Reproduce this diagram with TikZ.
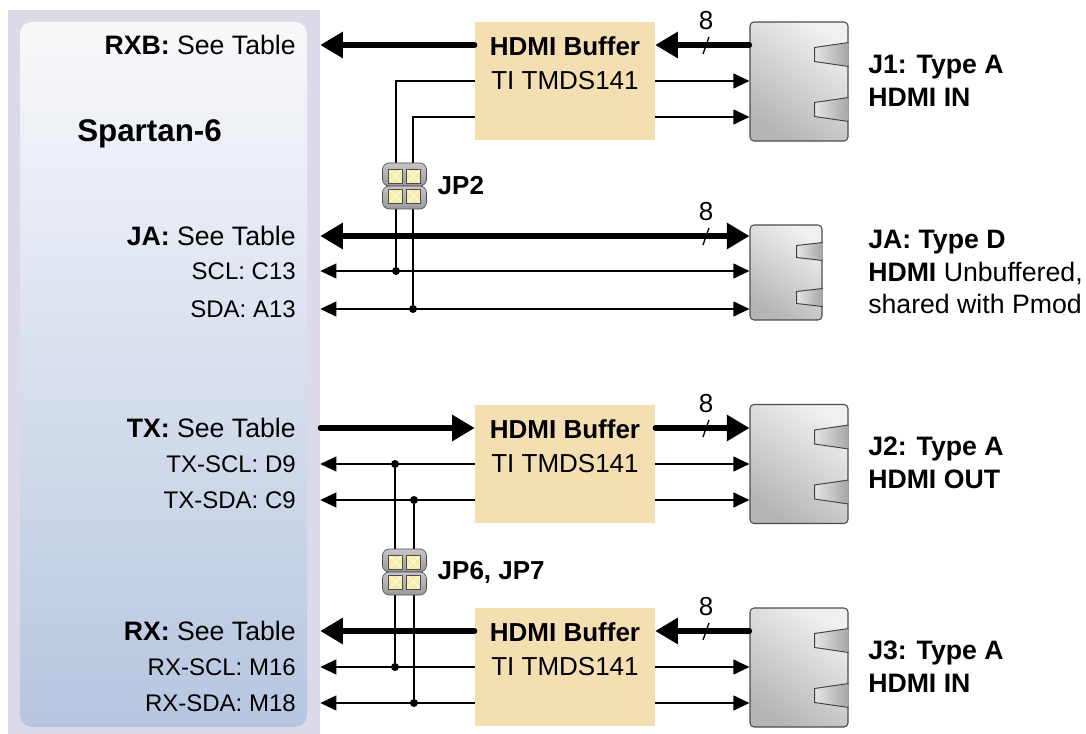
\documentclass[tikz,border=0pt]{standalone}
\usepackage{fontspec}
\setmainfont{Liberation Sans}
\usepackage{xcolor}
\usetikzlibrary{arrows.meta,positioning}
\definecolor{panelgray}{RGB}{220,218,233}
\definecolor{chiptop}{RGB}{248,248,250}
\definecolor{chipbot}{RGB}{182,198,224}
\definecolor{bufwheat}{RGB}{243,223,178}
\definecolor{pinyellow}{RGB}{247,236,176}

\begin{document}
\begin{tikzpicture}[
    x=0.75pt, y=-0.75pt,
    panel/.style={rectangle, fill=panelgray, minimum width=234pt, minimum height=543pt, inner sep=0},
    chip/.style={rectangle, rounded corners=9pt, top color=chiptop, bottom color=chipbot, minimum width=215.25pt, minimum height=528.75pt, inner sep=0},
    buffer/.style={rectangle, fill=bufwheat, minimum width=135pt, minimum height=88.5pt, inner sep=0,
        label={[buftext, anchor=north, yshift=-11pt]north:{\textbf{HDMI Buffer}\\TI TMDS141}}},
    buftext/.style={align=center, inner sep=0, font=\fontsize{19.5}{25.5}\selectfont},
    hdmi/.style={rectangle, draw=black!70, line width=0.8pt, rounded corners=3pt, top color=gray!12, bottom color=gray!58, shading angle=-35, minimum width=73.5pt, minimum height=89.25pt, inner sep=0},
    slot/.style={draw=black!75, line width=0.7pt, left color=gray!20, right color=gray!70},
    jumper/.style={rectangle, minimum width=33pt, minimum height=34.5pt, inner sep=0},
    jplab/.style={inner sep=0, font=\fontsize{19.5}{24}\selectfont\bfseries},
    lab/.style={anchor=east, inner sep=0, font=\fontsize{20}{24}\selectfont},
    sublab/.style={anchor=east, inner sep=0, font=\fontsize{18}{22}\selectfont},
    side/.style={anchor=west, align=left, inner sep=0, font=\fontsize{20}{24.5}\selectfont},
    wire/.style={line width=1.5pt},
    small/.style={line width=1.5pt, -{Triangle[length=12pt, width=11pt]}},
    smallboth/.style={line width=1.5pt, {Triangle[length=12pt, width=11pt]}-{Triangle[length=12pt, width=11pt]}},
    big/.style={line width=3.9pt, line cap=round, -{Triangle[length=17pt, width=19pt]}},
    bigboth/.style={line width=3.9pt, {Triangle[length=17pt, width=19pt]}-{Triangle[length=17pt, width=19pt]}},
    dot/.style={circle, fill=black, inner sep=0, minimum size=6pt}
]
    \useasboundingbox (0,0) rectangle (1086,734);

    % FPGA side
    \node[panel] (fpga) at (164,372) {};
    \node[chip] (chip) at (163.5,374.5) {};
    \node[anchor=west, inner sep=0, font=\fontsize{23.5}{28}\selectfont\bfseries] (spartan) at (77,134) {Spartan-6};

    \node[lab] (lrxb) at (296,45) {\textbf{RXB:} See Table};
    \node[lab] (lja) at (296,236) {\textbf{JA:} See Table};
    \node[sublab] (lscl) at (296,271) {SCL: C13};
    \node[sublab] (lsda) at (296,309) {SDA: A13};
    \node[lab] (ltx) at (296,428) {\textbf{TX:} See Table};
    \node[sublab] (ltxscl) at (296,464) {TX-SCL: D9};
    \node[sublab] (ltxsda) at (296,500) {TX-SDA: C9};
    \node[lab] (lrx) at (296,631) {\textbf{RX:} See Table};
    \node[sublab] (lrxscl) at (296,667) {RX-SCL: M16};
    \node[sublab] (lrxsda) at (296,703) {RX-SDA: M18};

    % buffers and connectors
    \node[buffer] (buf1) at (565,81) {};
    \node[buffer] (buf2) at (565,464) {};
    \node[buffer] (buf3) at (565,667) {};

    \node[hdmi] (j1) at (799,81.5) {};
    \node[hdmi, minimum width=54pt, minimum height=71.25pt] (ja) at (786,272.5) {};
    \node[hdmi] (j2) at (799,464) {};
    \node[hdmi] (j3) at (799,667.5) {};
    \foreach \c/\dy in {j1/-27, j1/28, j2/-27, j2/28, j3/-27, j3/28}
        \path[slot] ([shift={(0,\dy-12)}]\c.east) -- ++(-34,5) -- ++(0,14) -- ++(34,5);
    \foreach \dy in {-21,25}
        \path[slot] ([shift={(0,\dy-9)}]ja.east) -- ++(-26,3) -- ++(0,12) -- ++(26,3);

    \node[side] (t1) at (868,80.5) {\textbf{J1: Type A}\\\textbf{HDMI IN}};
    \node[side] (tja) at (868,272) {\textbf{JA: Type D}\\\textbf{HDMI} Unbuffered,\\shared with Pmod};
    \node[side] (t2) at (868,463) {\textbf{J2: Type A}\\\textbf{HDMI OUT}};
    \node[side] (t3) at (868,666.5) {\textbf{J3: Type A}\\\textbf{HDMI IN}};

    % RXB
    \draw[big] (j1.west |- lrxb) -- (buf1.east |- lrxb);
    \draw[big] (buf1.west |- lrxb) -- (fpga.east |- lrxb);
    \foreach \y in {81,117}
        \draw[small] (buf1.east |- 0,\y) -- (j1.west |- 0,\y);

    % JA
    \draw[bigboth] (fpga.east |- lja) -- (ja.west |- lja);
    \draw[smallboth] (fpga.east |- lscl) -- (ja.west |- lscl);
    \draw[smallboth] (fpga.east |- lsda) -- (ja.west |- lsda);

    % TX
    \draw[big] (fpga.east |- ltx) -- (buf2.west |- ltx);
    \draw[big] (buf2.east |- ltx) -- (j2.west |- ltx);
    \foreach \l in {ltxscl,ltxsda} {
        \draw[small] (buf2.west |- \l) -- (fpga.east |- \l);
        \draw[small] (buf2.east |- \l) -- (j2.west |- \l);
    }

    % RX
    \draw[big] (j3.west |- lrx) -- (buf3.east |- lrx);
    \draw[big] (buf3.west |- lrx) -- (fpga.east |- lrx);
    \foreach \l in {lrxscl,lrxsda} {
        \draw[small] (buf3.west |- \l) -- (fpga.east |- \l);
        \draw[small] (buf3.east |- \l) -- (j3.west |- \l);
    }

    % bus width marks
    \foreach \y [count=\i] in {45,236,428,631} {
        \draw[line width=1pt] (703,{\y+9}) -- (709,{\y-8});
        \node[inner sep=0, font=\fontsize{19.5}{24}\selectfont] (w\i) at (706,{\y-24}) {8};
    }

    % DDC lines through the jumpers
    \node[dot] (d1) at (396,271) {};
    \node[dot] (d2) at (413,309) {};
    \node[dot] (d3) at (395,464) {};
    \node[dot] (d4) at (414,500) {};
    \node[dot] (d5) at (395,667) {};
    \node[dot] (d6) at (414,703) {};
    \draw[wire] (buf1.west) -| (d1);
    \draw[wire] (buf1.west |- 0,117) -| (d2);
    \draw[wire] (d3) -- (d5);
    \draw[wire] (d4) -- (d6);

    % jumpers
    \node[jumper] (jp2) at (404.5,186) {};
    \node[jumper] (jp67) at (404.5,572) {};
    \node[jplab, right=8pt of jp2] (jp2lab) {JP2};
    \node[jplab, right=8pt of jp67] (jp67lab) {JP6, JP7};
    \foreach \j in {jp2,jp67} {
        \foreach \dy in {-11.5,11.5}
            \shadedraw[top color=gray!45, bottom color=gray!80, draw=gray!60!black, line width=0.5pt, rounded corners=5pt]
                ([shift={(-22,\dy-11.5)}]\j.center) rectangle ++(44,23);
        \foreach \dx in {-9,9}
            \foreach \dy in {-10,10} {
                \filldraw[fill=pinyellow, draw=gray!60!black, line width=0.6pt]
                    ([shift={(\dx-7,\dy-7)}]\j.center) rectangle ++(14,14);
                \draw[white!85!yellow, line width=0.6pt]
                    ([shift={(\dx-6,\dy-6)}]\j.center) -- ++(12,12) ++(-12,0) -- ++(12,-12);
            }
    }
\end{tikzpicture}
\end{document}
